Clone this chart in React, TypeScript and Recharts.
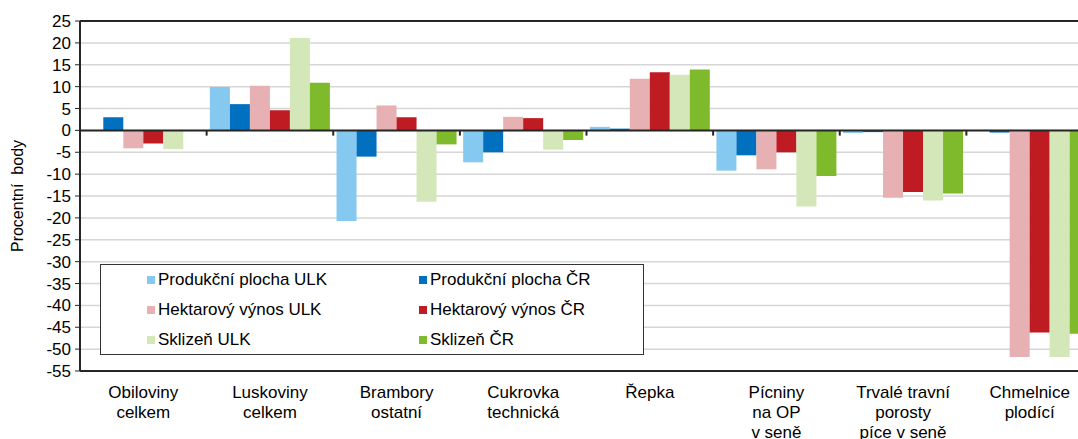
import React from 'react';
import { BarChart, Bar, XAxis, YAxis, CartesianGrid, ReferenceLine, Legend } from 'recharts';

// hodnoty (procentní body)
const categories = [
  'Obiloviny\ncelkem',
  'Luskoviny\ncelkem',
  'Brambory\nostatní',
  'Cukrovka\ntechnická',
  'Řepka',
  'Pícniny\nna OP\nv seně',
  'Trvalé travní\nporosty\npíce v seně',
  'Chmelnice\nplodící',
];
const plochaULK = [0, 9.9, -20.7, -7.3, 0.8, -9.2, -0.6, 0];
const plochaCR = [3.0, 6.0, -6.0, -5.0, 0.4, -5.7, -0.4, -0.5];
const vynosULK = [-4.1, 10.2, 5.7, 3.1, 11.8, -8.9, -15.4, -51.8];
const vynosCR = [-3.0, 4.6, 3.0, 2.8, 13.3, -5.0, -14.1, -46.2];
const sklizenULK = [-4.3, 21.1, -16.3, -4.4, 12.7, -17.4, -16.0, -51.8];
const sklizenCR = [0, 10.9, -3.2, -2.2, 13.9, -10.4, -14.4, -46.5];
const yTicks = [25, 20, 15, 10, 5, 0, -5, -10, -15, -20, -25, -30, -35, -40, -45, -50, -55];

const FONT = '"Liberation Sans", Arial, sans-serif';
const AXIS = '#262626';
const FS = 17;

const series = [
  { key: 'plochaULK', name: 'Produkční plocha ULK', color: '#85C8F0', values: plochaULK },
  { key: 'plochaCR', name: 'Produkční plocha ČR', color: '#0070BF', values: plochaCR },
  { key: 'vynosULK', name: 'Hektarový výnos ULK', color: '#E7B0B2', values: vynosULK },
  { key: 'vynosCR', name: 'Hektarový výnos ČR', color: '#BE1B23', values: vynosCR },
  { key: 'sklizenULK', name: 'Sklizeň ULK', color: '#D3E7B8', values: sklizenULK },
  { key: 'sklizenCR', name: 'Sklizeň ČR', color: '#7FBA2C', values: sklizenCR },
];

const data = categories.map((name, i) => {
  const row: Record<string, any> = { name };
  series.forEach((s) => (row[s.key] = s.values[i]));
  return row;
});

const CategoryTick = (props: any) => {
  const { x, y, payload } = props;
  const lines = String(payload.value).split('\n');
  return (
    <text x={x} y={y} textAnchor="middle" fontSize={FS} fill="#000" fontFamily={FONT}>
      {lines.map((l, i) => (
        <tspan key={i} x={x} dy={i === 0 ? 27 : 20}>
          {l}
        </tspan>
      ))}
    </text>
  );
};

const LegendBox = () => (
  <div
    style={{
      width: 544,
      height: 91,
      boxSizing: 'border-box',
      border: '1px solid #333',
      background: '#fff',
      display: 'grid',
      gridTemplateColumns: '272px 1fr',
      gridAutoRows: '30px',
      paddingLeft: 46,
      fontFamily: FONT,
      fontSize: FS,
      color: '#000',
    }}
  >
    {series.map((s) => (
      <div key={s.key} style={{ display: 'flex', alignItems: 'center' }}>
        <span style={{ width: 8, height: 8, background: s.color, marginRight: 3, display: 'inline-block' }} />
        <span>{s.name}</span>
      </div>
    ))}
  </div>
);

export default function App() {
  return (
    <div style={{ position: 'absolute', left: 0, top: 0, width: 1078, height: 439, overflow: 'hidden', background: '#fff' }}>
      <BarChart
        width={1100}
        height={439}
        data={data}
        margin={{ top: 21, right: 7, bottom: 0, left: 0 }}
        barCategoryGap="2.6%"
        barGap={0}
      >
        <CartesianGrid vertical={false} stroke="#d6d6d6" strokeWidth={1.5} />
        <XAxis
          dataKey="name"
          height={68}
          interval={0}
          tickLine={false}
          tickSize={0}
          tickMargin={0}
          axisLine={{ stroke: AXIS, strokeWidth: 2 }}
          tick={<CategoryTick />}
        />
        <YAxis
          width={80}
          domain={[-55, 25]}
          ticks={yTicks}
          interval={0}
          tickSize={5}
          tickMargin={4}
          axisLine={{ stroke: AXIS, strokeWidth: 2 }}
          tickLine={{ stroke: AXIS }}
          tick={{ fontSize: FS, fill: '#000', fontFamily: FONT }}
          label={{
            content: () => (
              <text
                x={19}
                y={196}
                transform="rotate(-90 19 196)"
                textAnchor="middle"
                dominantBaseline="middle"
                fontSize={16}
                fontFamily={FONT}
                fill="#000"
                style={{ whiteSpace: 'pre' }}
              >
                {'Procentní  body'}
              </text>
            ),
          }}
        />
        {series.map((s) => (
          <Bar key={s.key} dataKey={s.key} name={s.name} fill={s.color} isAnimationActive={false} />
        ))}
        <ReferenceLine y={25} stroke={AXIS} strokeWidth={2} />
        <ReferenceLine y={0} stroke={AXIS} strokeWidth={2} />
        {categories.slice(1).map((c) => (
          <ReferenceLine
            key={c}
            position="start"
            segment={[
              { x: c, y: 0 },
              { x: c, y: -1.2 },
            ]}
            stroke={AXIS}
            strokeWidth={2}
          />
        ))}
        <Legend
          layout="horizontal"
          align="center"
          verticalAlign="middle"
          width={544}
          height={91}
          wrapperStyle={{ left: 100, top: 264, width: 544, height: 91 }}
          content={() => <LegendBox />}
        />
      </BarChart>
    </div>
  );
}
